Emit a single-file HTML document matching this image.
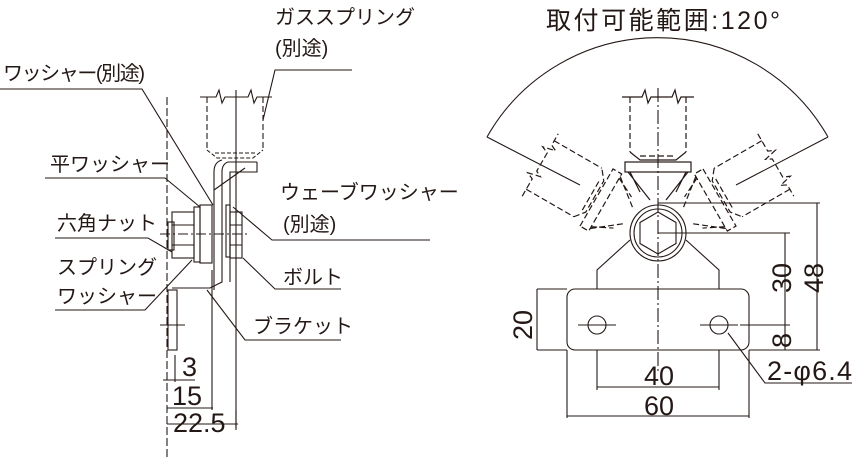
<!DOCTYPE html>
<html><head><meta charset="utf-8"><style>
html,body{margin:0;padding:0;background:#fff;}
svg{display:block;}
text{font-family:"Liberation Sans","Noto Sans CJK JP",sans-serif;fill:#231815;}
</style></head><body>
<svg width="856" height="459" viewBox="0 0 856 459" xmlns="http://www.w3.org/2000/svg">
<defs>
<g id="gs" fill="none" stroke="#231815" stroke-width="1.2">
  <path d="M622 97 L642 97 L645 90 L648 103 L651 97 L672 97 L675 90 L678 103 L681 97 L694 97"/>
  <path d="M630 97 V152 M686 97 V152" stroke-dasharray="6 3"/>
  <path d="M630 152 L640 160 H676 L686 152" />
  <path d="M640 156 H676" stroke-dasharray="6 3"/>
  <rect x="625" y="162" width="66" height="10"/>
  <path d="M628 172 L650 200 M688 172 L666 200 M630 172 L640 192 M686 172 L676 192"/>
</g>
</defs>
<!-- LEFT VIEW -->
<g fill="none" stroke="#231815" stroke-width="1.1">
  <line x1="167" y1="97" x2="167" y2="459" stroke-dasharray="8 3"/>
  <line x1="236" y1="90" x2="236" y2="430"/>
  <path d="M200 97 H216 L219 90 L222 103 L225 97 H248 L251 90 L254 103 L257 97 H272"/>
  <path d="M207 97 V150 M263 97 V150" stroke-dasharray="6 3"/>
  <path d="M207 150 L217 158 H253 L263 150 M215 153 H256" stroke-dasharray="4 2"/>
  <path d="M222 160 Q214 162 214 172 V290 M257 162 H228 Q222 164 222 172 V282 L210 288 H172 M257 162 V172 H230 V282" />
  <path d="M214 190 L245 168"/>
  <rect x="172" y="212" width="22" height="46"/>
  <rect x="168" y="222" width="6" height="28"/>
  <rect x="194" y="207" width="6" height="55"/>
  <rect x="200" y="205" width="12" height="58"/>
  <rect x="226" y="205" width="4" height="52"/>
  <rect x="230" y="212" width="12" height="46"/>
  <path d="M172 225 H194 M172 245 H194 M230 225 H242 M230 245 H242"/>
  <line x1="160" y1="234" x2="248" y2="234" stroke-dasharray="10 3 2 3"/>
  <rect x="168" y="290" width="9" height="60"/>
  <line x1="160" y1="325" x2="185" y2="325"/>
  <path d="M175 355 V382 M163 380 H195 M212 270 V410 M167 408 H213 M236 410 V428 M167 424 H238"/>
  <path d="M352 70 H275 L263 120"/>
  <path d="M0 89 H142 L213 205"/>
  <path d="M45 178 H165 L200 207"/>
  <path d="M55 238 H148 L172 252"/>
  <path d="M55 310 H145 L192 260"/>
  <path d="M430 240 H272 L233 207"/>
  <path d="M341 289 H275 L243 258"/>
  <path d="M341 340 H245 L207 290"/>
</g>
<g font-size="20">
  <text x="275" y="24">ガススプリング</text>
  <text x="275" y="55">(別途)</text>
  <text x="3" y="80" textLength="142">ワッシャー(別途)</text>
  <text x="50" y="171">平ワッシャー</text>
  <text x="57" y="230">六角ナット</text>
  <text x="57" y="274">スプリング</text>
  <text x="57" y="303">ワッシャー</text>
  <text x="280" y="199">ウェーブワッシャー</text>
  <text x="283" y="231">(別途)</text>
  <text x="283" y="284">ボルト</text>
  <text x="253" y="333">ブラケット</text>
</g>
<g font-size="27">
  <text x="182" y="376">3</text>
  <text x="172" y="405">15</text>
  <text x="173" y="432">22.5</text>
</g>
<!-- RIGHT VIEW -->
<text x="546" y="29" font-size="25" textLength="234">取付可能範囲:120°</text>
<g fill="none" stroke="#231815" stroke-width="1.1">
  <path d="M487 137 A196 196 0 0 1 828 137"/>
  <path d="M487 137 L580 185 M828 137 L736 185"/>
  <use href="#gs"/>
  <g stroke-dasharray="6 3"><use href="#gs" transform="rotate(-60 658 233)"/><use href="#gs" transform="rotate(60 658 233)"/></g>
  <line x1="658" y1="88" x2="658" y2="372" stroke-dasharray="14 3 2 3"/>
  <circle cx="658" cy="233" r="28"/>
  <circle cx="658" cy="233" r="24"/>
  <polygon points="658,212 676,222.5 676,243.5 658,254 640,243.5 640,222.5"/>
  <path d="M597 289 V270 L630 240 M719 289 V270 L686 240"/>
  <rect x="567" y="289" width="182" height="61" rx="8"/>
  <circle cx="597" cy="325" r="9"/>
  <circle cx="719" cy="325" r="9"/>
  <path d="M578 325 H616 M700 325 H738"/>
  <path d="M597 350 V390 M719 350 V390 M567 350 V418 M749 350 V418 M597 387 H719 M567 416 H749"/>
  <path d="M537 289 H567 M537 350 H567 M537 289 V350"/>
  <path d="M658 233 H790 M785 233 V350 M740 325 H790 M749 350 H820 M658 203 H820 M817 203 V350"/>
  <path d="M728 333 L765 383 H852"/>
</g>
<g font-size="27">
  <text transform="translate(532 340) rotate(-90)">20</text>
  <text transform="translate(791 293) rotate(-90)">30</text>
  <text transform="translate(823 293) rotate(-90)">48</text>
  <text transform="translate(791 348) rotate(-90)">8</text>
  <text x="644" y="385">40</text>
  <text x="644" y="415">60</text>
  <text x="767" y="380" textLength="85">2-φ6.4</text>
</g>
</svg>
</body></html>
